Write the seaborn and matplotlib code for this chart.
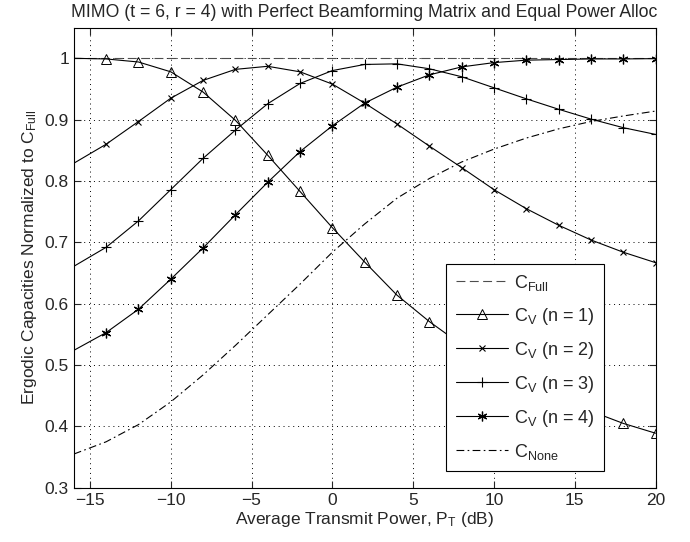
import numpy as np
import pandas as pd
import matplotlib
matplotlib.use("Agg")
import matplotlib.pyplot as plt
import seaborn as sns

power_db = [-16, -14, -12, -10, -8, -6, -4, -2, 0, 2, 4, 6, 8, 10, 12, 14, 16, 18, 20]
c_full = [1.0] * len(power_db)
c_v1 = [1.000, 0.999, 0.994, 0.978, 0.945, 0.899, 0.842, 0.783, 0.724, 0.668,
        0.614, 0.571, 0.533, 0.500, 0.471, 0.447, 0.425, 0.405, 0.389]
c_v2 = [0.829, 0.860, 0.897, 0.935, 0.964, 0.982, 0.987, 0.978, 0.958, 0.927,
        0.893, 0.857, 0.822, 0.786, 0.755, 0.728, 0.704, 0.684, 0.667]
c_v3 = [0.661, 0.692, 0.735, 0.786, 0.837, 0.883, 0.926, 0.959, 0.980, 0.990,
        0.991, 0.983, 0.970, 0.952, 0.934, 0.917, 0.901, 0.887, 0.876]
c_v4 = [0.524, 0.553, 0.591, 0.640, 0.691, 0.745, 0.798, 0.848, 0.890, 0.927,
        0.953, 0.973, 0.986, 0.993, 0.997, 0.998, 0.999, 0.999, 0.9995]
c_none = [0.355, 0.375, 0.403, 0.440, 0.484, 0.532, 0.582, 0.632, 0.684, 0.730,
          0.772, 0.804, 0.831, 0.852, 0.870, 0.885, 0.897, 0.906, 0.914]

x_ticks = [-15, -10, -5, 0, 5, 10, 15, 20]
y_ticks = [0.3, 0.4, 0.5, 0.6, 0.7, 0.8, 0.9, 1.0]
y_ticklabels = ["0.3", "0.4", "0.5", "0.6", "0.7", "0.8", "0.9", "1"]

sns.set_style("ticks")
plt.rcParams["font.family"] = ["Liberation Sans", "DejaVu Sans"]
plt.rcParams["mathtext.fontset"] = "custom"
plt.rcParams["mathtext.rm"] = "Liberation Sans"
plt.rcParams["mathtext.it"] = "Liberation Sans"
plt.rcParams["mathtext.default"] = "regular"

fig = plt.figure(figsize=(6.9, 5.42), dpi=100)
ax = fig.add_axes([0.107, 0.100, 0.843, 0.849])

df = pd.DataFrame({"x": power_db, "full": c_full, "v1": c_v1, "v2": c_v2,
                   "v3": c_v3, "v4": c_v4, "none": c_none})

asterisk = (6, 2, 0)
me = slice(1, None)
lw = 0.8
sns.lineplot(data=df, x="x", y="full", ax=ax, color="0.3", linestyle=(0, (8, 4)),
             linewidth=lw, label=r"C$_{Full}$")
sns.lineplot(data=df, x="x", y="v1", ax=ax, color="black", linewidth=lw, marker="^",
             markersize=7, markerfacecolor="none", markeredgecolor="black",
             markeredgewidth=0.7, markevery=me, label=r"C$_{V}$ (n = 1)")
sns.lineplot(data=df, x="x", y="v2", ax=ax, color="black", linewidth=lw, marker="x",
             markersize=5, markeredgecolor="black", markeredgewidth=0.8,
             markevery=me, label=r"C$_{V}$ (n = 2)")
sns.lineplot(data=df, x="x", y="v3", ax=ax, color="black", linewidth=lw, marker="+",
             markersize=7, markeredgecolor="black", markeredgewidth=0.8,
             markevery=me, label=r"C$_{V}$ (n = 3)")
sns.lineplot(data=df, x="x", y="v4", ax=ax, color="black", linewidth=lw, marker=asterisk,
             markersize=7, markeredgecolor="black", markeredgewidth=0.9,
             markevery=me, label=r"C$_{V}$ (n = 4)")
sns.lineplot(data=df, x="x", y="none", ax=ax, color="black", linestyle=(0, (7, 3, 1.5, 3)),
             linewidth=lw, label=r"C$_{None}$")

ax.set_xlim(-16, 20)
ax.set_ylim(0.3, 1.05)
ax.set_xticks(x_ticks)
ax.set_xticklabels([str(t).replace("-", "\u2212") for t in x_ticks])
ax.set_yticks(y_ticks)
ax.set_yticklabels(y_ticklabels)
ax.tick_params(direction="in", top=True, right=True, labelsize=12.5, length=5, width=0.8)
ax.grid(True, linestyle=(0, (1, 4)), color="black", linewidth=0.7)
for s in ax.spines.values():
    s.set_linewidth(0.8)
    s.set_color("black")

ax.set_xlabel(r"Average Transmit Power, P$_T$ (dB)", fontsize=12.5, labelpad=2)
ax.set_ylabel(r"Ergodic Capacities Normalized to C$_{Full}$", fontsize=12.5, labelpad=4)
ax.set_title("MIMO (t = 6, r = 4) with Perfect Beamforming Matrix and Equal Power Alloc",
             fontsize=12.7, pad=8)

leg = ax.legend(loc="lower right", bbox_to_anchor=(0.911, 0.037), borderaxespad=0,
                fontsize=13, frameon=True, fancybox=False, edgecolor="black",
                framealpha=1, handlelength=2.9, labelspacing=0.72, borderpad=0.5,
                handletextpad=0.35)
leg.get_frame().set_linewidth(0.8)

fig.savefig("out.png", dpi=100)
